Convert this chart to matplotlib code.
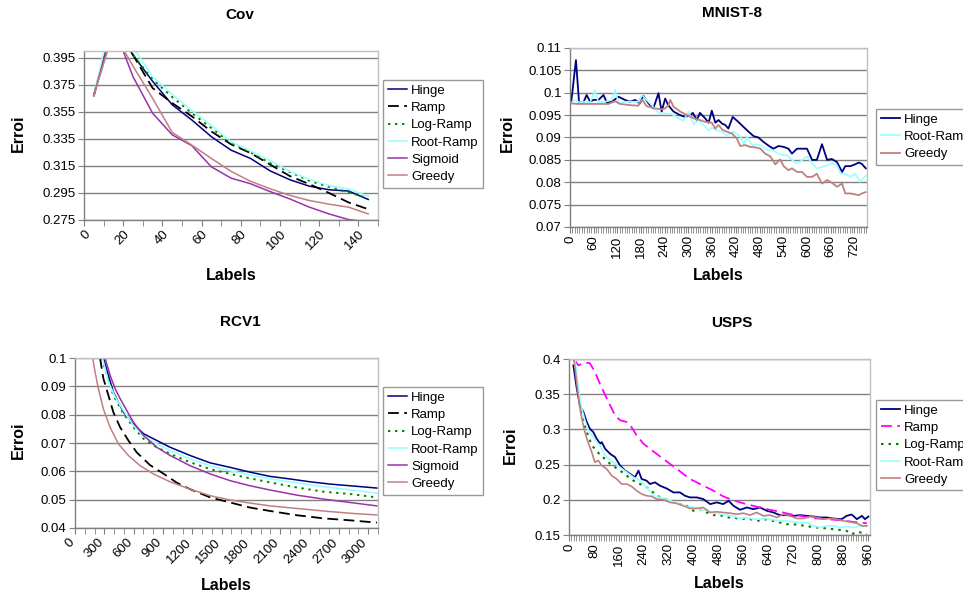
import matplotlib
matplotlib.use("Agg")
import matplotlib.pyplot as plt
import matplotlib.transforms as mtransforms
from matplotlib.ticker import MultipleLocator, FuncFormatter

plt.rcParams['font.family'] = ['Liberation Sans', 'DejaVu Sans']

W, H = 963, 596

# ---------------- Cov ----------------
cov_x = [5, 15, 25, 35, 45, 55, 65, 75, 85, 95, 105, 115, 125, 135, 145]
cov_hinge = [0.367, 0.421, 0.397, 0.3776, 0.3602, 0.349, 0.3366, 0.3267, 0.3205, 0.3113, 0.3048, 0.300, 0.2974, 0.2964, 0.2902]
cov_ramp = [0.367, 0.422, 0.397, 0.3726, 0.3615, 0.3517, 0.3405, 0.331, 0.3245, 0.316, 0.3075, 0.3015, 0.2950, 0.2880, 0.2830]
cov_logramp = [0.367, 0.423, 0.397, 0.379, 0.366, 0.354, 0.343, 0.332, 0.325, 0.317, 0.3105, 0.304, 0.2995, 0.2955, 0.291]
cov_rootramp = [0.367, 0.430, 0.403, 0.381, 0.368, 0.356, 0.345, 0.333, 0.326, 0.319, 0.311, 0.305, 0.3005, 0.298, 0.2925]
cov_sigmoid = [0.367, 0.419, 0.381, 0.354, 0.338, 0.330, 0.3143, 0.306, 0.3018, 0.296, 0.2906, 0.2845, 0.2795, 0.2753, 0.2735]
cov_greedy = [0.367, 0.414, 0.3888, 0.365, 0.3398, 0.3304, 0.3205, 0.311, 0.3036, 0.2981, 0.2932, 0.2894, 0.2867, 0.2845, 0.2795]

# ---------------- MNIST-8 ----------------
mn_hinge_x = [3, 15, 23, 34, 42, 51, 59, 72, 85, 93, 106, 123, 139, 152, 165, 177, 186, 199, 211, 224, 232, 241, 249,
              262, 279, 291, 304, 311, 321, 329, 342, 351, 359, 368, 376, 385, 393, 401, 412, 426, 439, 452, 465,
              477, 490, 504, 515, 528, 541, 553, 562, 575, 587, 600, 613, 625, 638, 651, 663, 676, 689, 697, 710,
              722, 731, 739, 749]
mn_hinge = [0.0978, 0.1073, 0.0978, 0.0978, 0.0995, 0.098, 0.0984, 0.0984, 0.0995, 0.0978, 0.098, 0.0991, 0.0984,
            0.098, 0.0984, 0.0976, 0.0993, 0.0976, 0.0965, 0.0999, 0.0958, 0.0987, 0.0972, 0.0958, 0.095, 0.0946,
            0.095, 0.0955, 0.0939, 0.0955, 0.0943, 0.0933, 0.096, 0.0933, 0.0939, 0.0931, 0.0928, 0.092, 0.0946,
            0.0935, 0.0924, 0.0913, 0.0903, 0.090, 0.089, 0.0881, 0.0875, 0.0881, 0.0879, 0.0875, 0.0864, 0.0875,
            0.0875, 0.0875, 0.085, 0.085, 0.0885, 0.085, 0.0852, 0.0845, 0.0823, 0.0836, 0.0836, 0.084, 0.0844,
            0.0841, 0.0831]
mn_root_x = [3, 15, 25, 38, 51, 63, 72, 89, 106, 114, 123, 139, 156, 173, 182, 194, 207, 224, 241, 258, 275, 287,
             300, 313, 325, 338, 351, 359, 372, 385, 397, 414, 431, 440, 448, 461, 473, 486, 499, 511, 524, 537,
             549, 562, 575, 587, 600, 613, 625, 638, 651, 663, 676, 685, 697, 710, 722, 735, 745, 752]
mn_root = [0.0978, 0.0984, 0.0978, 0.098, 0.0978, 0.1006, 0.0978, 0.098, 0.0984, 0.1007, 0.0976, 0.098, 0.098,
           0.098, 0.0995, 0.0984, 0.0972, 0.0955, 0.0954, 0.0952, 0.0943, 0.0937, 0.0958, 0.093, 0.0939, 0.0928,
           0.0916, 0.0922, 0.0916, 0.0913, 0.0905, 0.0913, 0.0902, 0.0885, 0.0902, 0.0883, 0.0885, 0.0881, 0.0872,
           0.0872, 0.0866, 0.0861, 0.0861, 0.085, 0.0842, 0.0849, 0.0858, 0.0842, 0.0831, 0.0834, 0.0838, 0.0843,
           0.0838, 0.0819, 0.0819, 0.0812, 0.0819, 0.0801, 0.0812, 0.0816]
mn_greedy_x = [3, 21, 97, 114, 127, 156, 173, 182, 194, 215, 232, 241, 249, 254, 262, 279, 296, 313, 329, 342, 359,
               368, 376, 385, 397, 410, 422, 431, 444, 456, 469, 482, 494, 507, 520, 532, 541, 553, 562, 575, 587,
               600, 613, 625, 638, 651, 663, 676, 689, 697, 710, 722, 731, 739, 749]
mn_greedy = [0.0976, 0.0975, 0.0975, 0.0981, 0.0975, 0.0972, 0.0971, 0.0985, 0.097, 0.0965, 0.0963, 0.0965, 0.0972,
             0.0984, 0.0969, 0.0958, 0.095, 0.0943, 0.0939, 0.0935, 0.0933, 0.092, 0.0928, 0.0918, 0.0913, 0.0909,
             0.0898, 0.0881, 0.0883, 0.0879, 0.0878, 0.0875, 0.0864, 0.0858, 0.084, 0.0851, 0.0836, 0.0827, 0.0831,
             0.0823, 0.0823, 0.0812, 0.0812, 0.0819, 0.0797, 0.0805, 0.0799, 0.079, 0.0797, 0.0775, 0.0775, 0.0773,
             0.0771, 0.0775, 0.0778]

# ---------------- RCV1 ----------------
rcv_hinge_x = [290, 392, 495, 597, 700, 836, 973, 1177, 1382, 1587, 1792, 1997, 2201, 2406, 2611, 2816, 3089]
rcv_hinge = [0.1, 0.0880, 0.0809, 0.0768, 0.0733, 0.0709, 0.0685, 0.0656, 0.0630, 0.0614, 0.0597, 0.0582, 0.0573,
             0.0563, 0.0555, 0.0549, 0.0541]
rcv_ramp_x = [256, 290, 341, 392, 461, 546, 631, 768, 904, 1041, 1177, 1382, 1587, 1792, 1997, 2270, 2543, 2816, 3089]
rcv_ramp = [0.1, 0.0928, 0.0869, 0.0809, 0.0756, 0.0709, 0.0667, 0.0622, 0.0592, 0.0560, 0.0537, 0.0508, 0.0490,
            0.0472, 0.0460, 0.0445, 0.0434, 0.0427, 0.0419]
rcv_logramp_x = [273, 324, 392, 495, 597, 700, 836, 973, 1177, 1382, 1587, 1792, 1997, 2270, 2543, 2816, 3089]
rcv_logramp = [0.1, 0.0940, 0.0869, 0.0804, 0.0756, 0.0715, 0.0685, 0.0662, 0.0632, 0.0608, 0.0591, 0.0575, 0.0561,
               0.0543, 0.0528, 0.0520, 0.0508]
rcv_rootramp_x = [280, 341, 410, 495, 597, 700, 836, 973, 1177, 1382, 1587, 1792, 1997, 2270, 2543, 2816, 3089]
rcv_rootramp = [0.1, 0.0916, 0.0863, 0.0815, 0.0762, 0.0724, 0.0697, 0.0673, 0.0644, 0.0620, 0.0602, 0.0587, 0.0573,
                0.0559, 0.0546, 0.0535, 0.0523]
rcv_sigmoid_x = [307, 358, 410, 461, 529, 597, 700, 836, 973, 1177, 1382, 1587, 1792, 1997, 2270, 2543, 2816, 3089]
rcv_sigmoid = [0.1, 0.0940, 0.0892, 0.0857, 0.0815, 0.0774, 0.0727, 0.0685, 0.0656, 0.0620, 0.0591, 0.0567, 0.0549,
               0.0534, 0.0516, 0.0502, 0.0490, 0.0478]
rcv_greedy_x = [181, 205, 239, 290, 358, 444, 546, 666, 802, 973, 1177, 1382, 1587, 1792, 1997, 2270, 2543, 2816, 3089]
rcv_greedy = [0.1, 0.0951, 0.0892, 0.0821, 0.0756, 0.0697, 0.0656, 0.0620, 0.0591, 0.0563, 0.0537, 0.0514, 0.0499,
              0.0488, 0.0478, 0.0469, 0.0460, 0.0452, 0.0446]

# ---------------- USPS ----------------
us_hinge_x = [14, 25, 35, 46, 57, 67, 78, 89, 100, 105, 116, 132, 148, 164, 180, 196, 212, 223, 233, 249, 260, 276,
              292, 313, 335, 356, 372, 388, 410, 431, 453, 474, 495, 512, 528, 549, 571, 592, 613, 635, 656, 677,
              699, 720, 742, 763, 784, 806, 827, 849, 875, 891, 907, 924, 940, 950, 961]
us_hinge = [0.391, 0.358, 0.334, 0.325, 0.3105, 0.301, 0.2962, 0.2867, 0.2796, 0.282, 0.2724, 0.2653, 0.2605, 0.2486,
            0.2415, 0.2367, 0.232, 0.2415, 0.2296, 0.2272, 0.2224, 0.2248, 0.22, 0.2162, 0.2105, 0.2105, 0.2058,
            0.2034, 0.2034, 0.201, 0.1939, 0.1963, 0.1939, 0.1986, 0.1915, 0.1858, 0.1891, 0.1867, 0.1891, 0.1844,
            0.182, 0.1782, 0.1782, 0.1772, 0.1782, 0.1772, 0.1763, 0.1749, 0.1749, 0.1734, 0.1725, 0.1772, 0.1791,
            0.1725, 0.1772, 0.1725, 0.1763]
us_ramp_x = [16, 30, 51, 67, 83, 99, 116, 132, 148, 164, 185, 201, 217, 239, 260, 281, 303, 324, 346, 367, 388, 410,
             431, 453, 474, 495, 517, 549, 581, 613, 645, 677, 709, 742, 784, 827, 870, 913, 956]
us_ramp = [0.4, 0.391, 0.395, 0.394, 0.382, 0.365, 0.349, 0.334, 0.32, 0.313, 0.3105, 0.303, 0.2915, 0.2796, 0.2724,
           0.2653, 0.258, 0.251, 0.244, 0.2367, 0.2296, 0.2248, 0.22, 0.2153, 0.2105, 0.2048, 0.201, 0.1963, 0.1925,
           0.1891, 0.1858, 0.183, 0.1796, 0.1772, 0.1739, 0.1725, 0.171, 0.1686, 0.1667]
us_logramp_x = [16, 25, 35, 46, 57, 67, 78, 89, 100, 116, 132, 148, 164, 185, 207, 228, 249, 270, 292, 313, 335, 356,
                378, 399, 421, 442, 464, 485, 506, 528, 549, 571, 592, 613, 635, 656, 677, 699, 720, 742, 763, 784,
                806, 827, 849, 870, 891, 907, 924, 940, 956]
us_logramp = [0.4, 0.3676, 0.334, 0.3105, 0.2962, 0.2843, 0.2748, 0.27, 0.2629, 0.2581, 0.251, 0.2462, 0.2415, 0.2343,
              0.2272, 0.2224, 0.2177, 0.2105, 0.2034, 0.201, 0.1972, 0.1939, 0.1915, 0.1844, 0.1867, 0.182, 0.1782,
              0.1782, 0.1749, 0.1749, 0.1725, 0.1734, 0.1715, 0.17, 0.1725, 0.17, 0.1677, 0.1653, 0.1653, 0.1639,
              0.163, 0.1606, 0.1606, 0.1592, 0.1582, 0.1572, 0.1558, 0.151, 0.1544, 0.1534, 0.151]
us_rootramp_x = [19, 30, 41, 51, 62, 78, 89, 100, 110, 121, 142, 164, 185, 207, 228, 249, 270, 292, 313, 335, 356, 378,
                 399, 421, 442, 464, 485, 506, 528, 549, 571, 592, 613, 635, 656, 677, 699, 720, 742, 763, 784, 806,
                 827, 849, 870, 891, 913, 934, 956]
us_rootramp = [0.4, 0.358, 0.3295, 0.3129, 0.2986, 0.2891, 0.282, 0.2772, 0.2677, 0.2605, 0.2534, 0.2462, 0.2391,
               0.232, 0.2272, 0.2177, 0.2058, 0.2034, 0.201, 0.1972, 0.1939, 0.1906, 0.1891, 0.1867, 0.1844, 0.182,
               0.1796, 0.1782, 0.1772, 0.1734, 0.1749, 0.1725, 0.1725, 0.1734, 0.1715, 0.17, 0.17, 0.1686, 0.1677,
               0.1677, 0.163, 0.1606, 0.163, 0.163, 0.1606, 0.162, 0.1606, 0.163, 0.162]
us_greedy_x = [16, 27, 37, 48, 59, 73, 83, 94, 105, 121, 137, 153, 169, 185, 201, 217, 233, 249, 265, 281, 303, 324,
               346, 367, 388, 410, 431, 453, 474, 495, 517, 538, 560, 581, 602, 624, 645, 667, 688, 710, 731, 752,
               774, 795, 817, 838, 860, 881, 902, 924, 940, 956]
us_greedy = [0.4, 0.358, 0.3248, 0.301, 0.2843, 0.2677, 0.2534, 0.2558, 0.2486, 0.2438, 0.2343, 0.2296, 0.2224,
             0.2224, 0.219, 0.2129, 0.2082, 0.2058, 0.2048, 0.201, 0.2, 0.1963, 0.1948, 0.1915, 0.1877, 0.1877,
             0.1891, 0.182, 0.183, 0.182, 0.181, 0.1796, 0.181, 0.1782, 0.182, 0.1772, 0.1782, 0.1749, 0.1796,
             0.1772, 0.1734, 0.1734, 0.1763, 0.1749, 0.1725, 0.1734, 0.1725, 0.17, 0.1686, 0.1667, 0.163, 0.163]

# Excel-like series styles
C_HINGE = '#000080'
C_RAMP = 'black'
C_LOG = '#008000'
C_ROOT = '#99FFFF'
C_SIG = '#9933AA'
C_GREEDY = '#C08080'
DASH = (0, (6, 3))
DOT = (0, (1.2, 2.4))

fig = plt.figure(figsize=(W / 100, H / 100), dpi=100)


def make_axes(l, r, t, b):
    """像素坐标 -> figure 坐标"""
    return fig.add_axes([l / W, 1 - b / H, (r - l) / W, (b - t) / H])


def style_axes(ax, xmax, ymin, ymax, ystep, ytick0, xlabel_step, xminor, rot):
    ax.set_xlim(0, xmax)
    ax.set_ylim(ymin, ymax)
    ax.yaxis.set_major_locator(MultipleLocator(ystep, offset=ytick0 % ystep))
    ax.yaxis.set_major_formatter(FuncFormatter(lambda v, p: f"{round(v, 4):g}"))
    ax.xaxis.set_major_locator(MultipleLocator(xlabel_step))
    ax.xaxis.set_minor_locator(MultipleLocator(xminor))
    ax.xaxis.set_major_formatter(FuncFormatter(lambda v, p: f"{v:.0f}"))
    ax.grid(axis='y', color='#808080', linewidth=1.0)
    ax.set_axisbelow(True)
    for s in ('top', 'right'):
        ax.spines[s].set_color('#c0c0c0')
    for s in ('left', 'bottom'):
        ax.spines[s].set_color('#808080')
    for s in ax.spines.values():
        s.set_linewidth(1.0)
    ax.tick_params(axis='y', length=4, color='#808080', labelsize=9.5, pad=2)
    ax.tick_params(axis='x', which='both', length=4, color='#808080', labelsize=9.5, pad=2)
    if rot == 45:
        for lab in ax.get_xticklabels():
            lab.set_rotation(45)
            lab.set_ha('right')
            lab.set_va('top')
            lab.set_rotation_mode('anchor')
    else:
        for lab in ax.get_xticklabels():
            lab.set_rotation(90)
            lab.set_ha('center')
            lab.set_va('top')


def add_legend(ax, x, y):
    leg = ax.legend(loc='upper left', bbox_to_anchor=(x / W, 1 - y / H), bbox_transform=fig.transFigure,
                    borderaxespad=0, fontsize=9.5, frameon=True, fancybox=False, handlelength=1.5,
                    handletextpad=0.3, labelspacing=0.38, borderpad=0.35)
    leg.get_frame().set_edgecolor('#808080')
    leg.get_frame().set_linewidth(1.0)


def fig_text(x, y, s, **kw):
    fig.text(x / W, 1 - y / H, s, ha='center', va='center', fontweight='bold', **kw)


# ---- Cov ----
ax1 = make_axes(84, 378, 51, 220)
ax1.plot(cov_x, cov_hinge, color=C_HINGE, lw=1.1, label='Hinge')
ax1.plot(cov_x, cov_ramp, color=C_RAMP, lw=1.3, linestyle=DASH, label='Ramp')
ax1.plot(cov_x, cov_logramp, color=C_LOG, lw=1.4, linestyle=DOT, label='Log-Ramp')
ax1.plot(cov_x, cov_rootramp, color=C_ROOT, lw=1.2, label='Root-Ramp')
ax1.plot(cov_x, cov_sigmoid, color=C_SIG, lw=1.1, label='Sigmoid')
ax1.plot(cov_x, cov_greedy, color=C_GREEDY, lw=1.1, label='Greedy')
style_axes(ax1, 150, 0.275, 0.4, 0.02, 0.275, 20, 10, 45)
add_legend(ax1, 383, 80)
fig_text(240, 15, 'Cov', fontsize=11)
fig_text(231, 275, 'Labels', fontsize=11.5)
fig_text(18, 133, 'Erroi', fontsize=11.5, rotation=90)

# ---- MNIST-8 ----
ax2 = make_axes(570, 867, 48, 227)
ax2.plot(mn_hinge_x, mn_hinge, color=C_HINGE, lw=1.3, label='Hinge')
ax2.plot(mn_root_x, mn_root, color=C_ROOT, lw=1.2, label='Root-Ramp')
ax2.plot(mn_greedy_x, mn_greedy, color=C_GREEDY, lw=1.3, label='Greedy')
style_axes(ax2, 752, 0.07, 0.11, 0.005, 0.07, 60, 6, 90)
add_legend(ax2, 876, 109)
fig_text(732, 13, 'MNIST-8', fontsize=11)
fig_text(718, 276, 'Labels', fontsize=11.5)
fig_text(507, 133, 'Erroi', fontsize=11.5, rotation=90)

# ---- RCV1 ----
ax3 = make_axes(75, 378, 358, 528)
ax3.plot(rcv_hinge_x, rcv_hinge, color=C_HINGE, lw=1.1, label='Hinge')
ax3.plot(rcv_ramp_x, rcv_ramp, color=C_RAMP, lw=1.3, linestyle=DASH, label='Ramp')
ax3.plot(rcv_logramp_x, rcv_logramp, color=C_LOG, lw=1.4, linestyle=DOT, label='Log-Ramp')
ax3.plot(rcv_rootramp_x, rcv_rootramp, color=C_ROOT, lw=1.2, label='Root-Ramp')
ax3.plot(rcv_sigmoid_x, rcv_sigmoid, color=C_SIG, lw=1.1, label='Sigmoid')
ax3.plot(rcv_greedy_x, rcv_greedy, color=C_GREEDY, lw=1.1, label='Greedy')
style_axes(ax3, 3100, 0.04, 0.1, 0.01, 0.04, 300, 100, 45)
shift = mtransforms.ScaledTranslation(-0.07, 0, fig.dpi_scale_trans)
for lab in ax3.get_xticklabels():
    lab.set_transform(lab.get_transform() + shift)
add_legend(ax3, 383, 387)
fig_text(240, 322, 'RCV1', fontsize=11)
fig_text(226, 585, 'Labels', fontsize=11.5)
fig_text(18, 440, 'Erroi', fontsize=11.5, rotation=90)

# ---- USPS ----
ax4 = make_axes(569, 870, 359, 535)
ax4.plot(us_hinge_x, us_hinge, color=C_HINGE, lw=1.3, label='Hinge')
ax4.plot(us_ramp_x, us_ramp, color='#FF00FF', lw=1.3, linestyle=DASH, label='Ramp')
ax4.plot(us_logramp_x, us_logramp, color=C_LOG, lw=1.5, linestyle=DOT, label='Log-Ramp')
ax4.plot(us_rootramp_x, us_rootramp, color=C_ROOT, lw=1.2, label='Root-Ramp')
ax4.plot(us_greedy_x, us_greedy, color=C_GREEDY, lw=1.2, label='Greedy')
style_axes(ax4, 966, 0.15, 0.4, 0.05, 0.15, 80, 8, 90)
add_legend(ax4, 876, 400)
fig_text(732, 323, 'USPS', fontsize=11)
fig_text(719, 584, 'Labels', fontsize=11.5)
fig_text(510, 445, 'Erroi', fontsize=11.5, rotation=90)

fig.savefig('out.png', dpi=100)
